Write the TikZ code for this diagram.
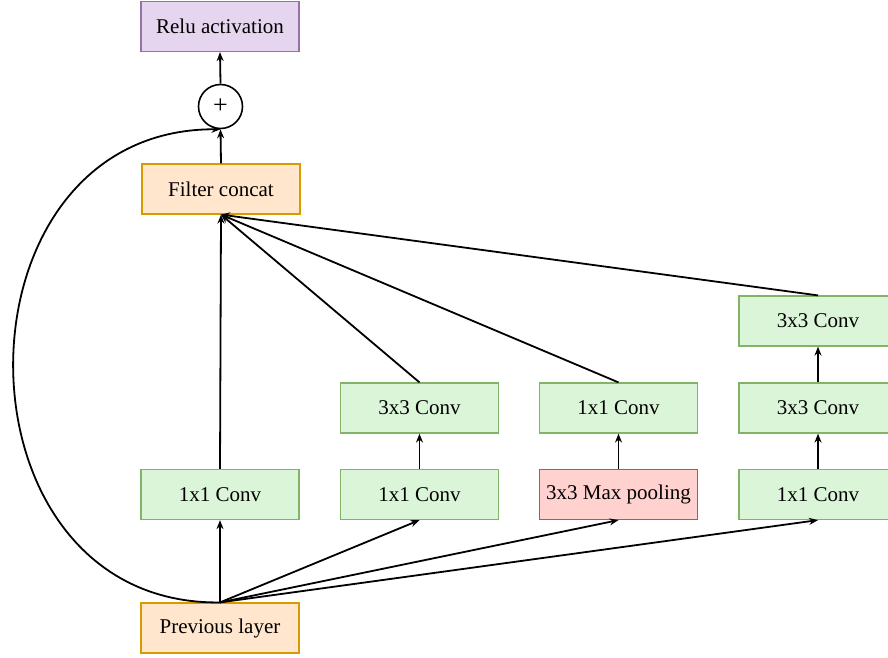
\documentclass[tikz,border=0pt]{standalone}
\usepackage{fontspec}
\setmainfont{Liberation Serif}
\usetikzlibrary{arrows.meta}
\definecolor{gfill}{HTML}{DBF5D8}
\definecolor{gdraw}{HTML}{82B366}
\definecolor{ofill}{HTML}{FFE6CC}
\definecolor{odraw}{HTML}{D79B00}
\definecolor{pfill}{HTML}{E6D5EE}
\definecolor{pdraw}{HTML}{9673A6}
\definecolor{rfill}{HTML}{FFD2D0}
\definecolor{rdraw}{HTML}{B85450}
\tikzset{
  box/.style={rectangle, minimum width=158pt, minimum height=50pt, inner sep=0pt, line width=1.2pt, font=\fontsize{21}{24}\selectfont},
  gbox/.style={box, fill=gfill, draw=gdraw},
  obox/.style={box, fill=ofill, draw=odraw},
  pbox/.style={box, fill=pfill, draw=pdraw},
  rbox/.style={box, fill=rfill, draw=rdraw},
  conn/.style={line width=1.8pt, -{Stealth[length=9pt,width=7pt]}},
}
\begin{document}
\begin{tikzpicture}[x=1pt,y=-1pt]
\useasboundingbox (0,0) rectangle (888,657);
\begin{scope}
\clip (0,0) rectangle (888,657);
\node[pbox] (relu) at (220,26.5) {Relu activation};
\node[circle, draw, line width=1.6pt, minimum size=44pt, inner sep=0pt, fill=white, font=\fontsize{26}{28}\selectfont] (plus) at (220.5,106.5) {+};
\node[obox] (concat) at (221,189) {Filter concat};
\node[gbox] (a1) at (220,494.5) {1x1 Conv};
\node[gbox] (b1) at (419.5,494.5) {1x1 Conv};
\node[gbox] (b2) at (419.5,408) {3x3 Conv};
\node[rbox] (c1) at (618.5,494.5) {3x3 Max pooling};
\node[gbox] (c2) at (618.5,408) {1x1 Conv};
\node[gbox] (d1) at (818,494.5) {1x1 Conv};
\node[gbox] (d2) at (818,408) {3x3 Conv};
\node[gbox] (d3) at (818,321) {3x3 Conv};
\node[obox] (prev) at (220,628) {Previous layer};

\draw[conn] (prev.north) -- (a1.south);
\draw[conn] (prev.north) -- (b1.south);
\draw[conn] (prev.north) -- (c1.south);
\draw[conn] (prev.north) -- (d1.south);
\draw[conn] (b1.north) -- (b2.south);
\draw[conn] (c1.north) -- (c2.south);
\draw[conn] (d1.north) -- (d2.south);
\draw[conn] (d2.north) -- (d3.south);
\draw[conn] (a1.north) -- (concat.south);
\draw[conn] (b2.north) -- (concat.south);
\draw[conn] (c2.north) -- (concat.south);
\draw[conn] (d3.north) -- (concat.south);
\draw[conn] (concat.north) -- (plus.south);
\draw[conn] (plus.north) -- (relu.south);
\draw[conn] (prev.north) .. controls (-55,606) and (-55,128) .. (plus.south);
\end{scope}
\end{tikzpicture}
\end{document}
